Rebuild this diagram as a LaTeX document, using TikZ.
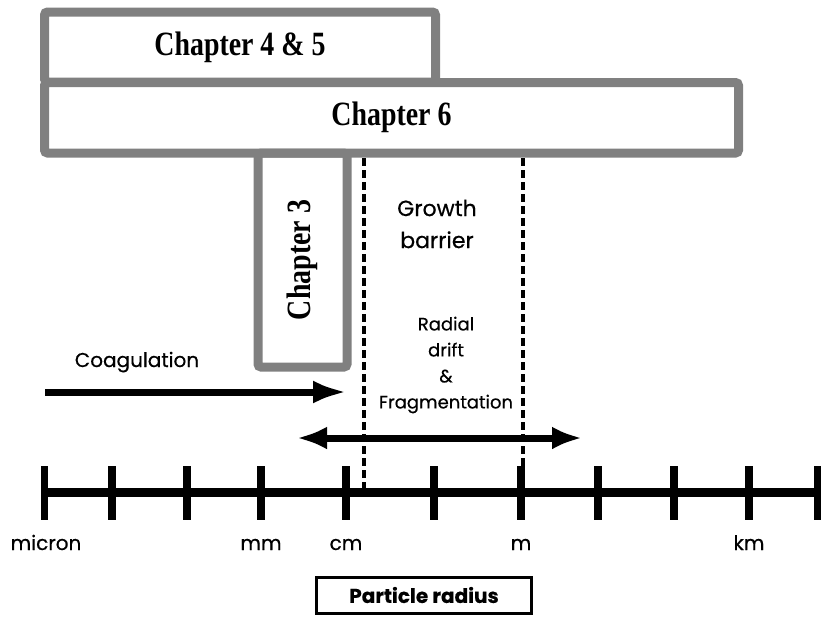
\documentclass[tikz,border=0pt]{standalone}
\usepackage{fontspec}
\setmainfont{Liberation Serif}
\setsansfont{Poppins}[FakeBold=0.5]
\newfontfamily\chapfont{Liberation Serif}[FakeStretch=0.82]
\usepackage{tikz}
\usetikzlibrary{arrows.meta,positioning}
\definecolor{chapgray}{RGB}{128,128,128}

\begin{document}
\begin{tikzpicture}[x=0.5pt, y=-0.5pt, font=\sffamily,
  chapbox/.style={draw=chapgray, line width=4.5pt, rounded corners=1.5pt, inner sep=0pt},
  chaptext/.style={font={\chapfont\bfseries\fontsize{17}{19}\selectfont}},
  bigarrow/.style={line width=3.5pt, -{Latex[length=17pt,width=11.5pt]}},
  barrier/.style={line width=1.75pt, dash pattern=on 4pt off 2pt},
  scalelabel/.style={anchor=base, font={\sffamily\fontsize{10}{12}\selectfont}}]
\useasboundingbox (0,0) rectangle (821,617);
% chapter boxes
\node[chapbox, chaptext, minimum width=195.5pt, minimum height=35pt] (ch45) at (240,47) {Chapter 4 \& 5};
\node[chapbox, chaptext, minimum width=347pt, minimum height=35.25pt] (ch6) at (391.5,117.75) {Chapter 6};
\node[chapbox, chaptext, rotate=90, minimum width=107pt, minimum height=44.5pt] (ch3) at (302.5,260) {Chapter 3};
% growth barrier
\coordinate (gb1top) at (364,158);
\coordinate (gb1bot) at (364,488);
\coordinate (gb2top) at (523,158);
\coordinate (gb2bot) at (523,490);
\draw[barrier] (gb1top) -- (gb1bot);
\draw[barrier] (gb2top) -- (gb2bot);
\node[align=center, font={\sffamily\fontsize{11}{16}\selectfont}] (growth) at (437,224) {Growth\\barrier};
\node[align=center, font={\sffamily\fontsize{9}{13}\selectfont}] (drift) at (446,365) {Radial\\drift\\\&\\Fragmentation};
% arrows
\node[font={\sffamily\fontsize{10}{12}\selectfont}, anchor=base] (coag) at (137,367) {Coagulation};
\coordinate (coagl) at (45,392);
\coordinate (coagr) at (347,392);
\draw[bigarrow] (coagl) -- (coagr);
\coordinate (fragl) at (297,438);
\coordinate (fragr) at (582,438);
\draw[bigarrow, {Latex[length=15pt,width=11.5pt]}-{Latex[length=15pt,width=11.5pt]}] (fragl) -- (fragr);
% size axis
\coordinate (axl) at (41,492);
\coordinate (axr) at (821,492);
\draw[line width=4.5pt] (axl) -- (axr);
\foreach \x in {44.5,112,187,261,346,434,521,598,674,749,818}
  \draw[line width=3.75pt] (\x,466) -- (\x,520);
\foreach \x/\n in {46/micron, 261/mm, 346/cm, 521/m, 749/km}
  \node[scalelabel] (lab-\n) at (\x,550) {\n};
\node[draw, line width=1.5pt, minimum width=107.5pt, minimum height=18pt,
  font={\sffamily\bfseries\fontsize{10}{12}\selectfont}] (radius) at (424,595) {Particle radius};
\end{tikzpicture}
\end{document}
